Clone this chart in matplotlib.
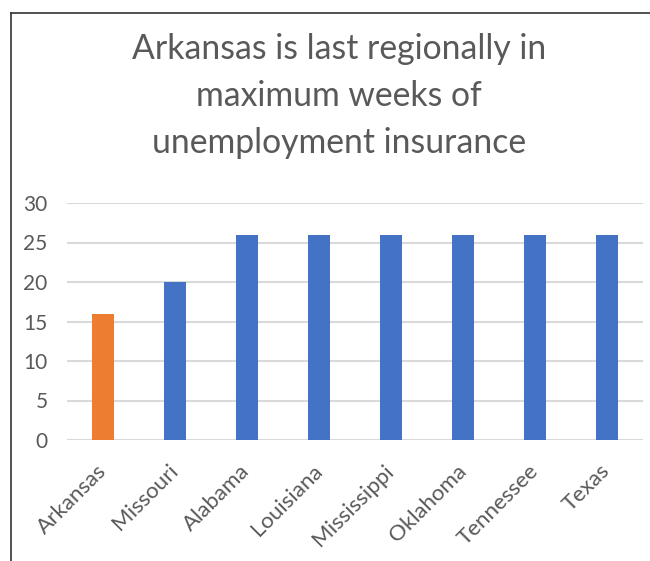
import matplotlib
matplotlib.use("Agg")
import matplotlib.pyplot as plt
from matplotlib.lines import Line2D

states = ["Arkansas", "Missouri", "Alabama", "Louisiana", "Mississippi", "Oklahoma", "Tennessee", "Texas"]
weeks = [16, 20, 26, 26, 26, 26, 26, 26]
colors = ["#ED7D31", "#4472C4", "#4472C4", "#4472C4", "#4472C4", "#4472C4", "#4472C4", "#4472C4"]
yticks = [0, 5, 10, 15, 20, 25, 30]
title = "Arkansas is last regionally in\nmaximum weeks of\nunemployment insurance"

plt.rcParams['font.family'] = ['Lato', 'DejaVu Sans']
txt = "#595959"

fig = plt.figure(figsize=(6.5, 5.61), dpi=100)
ax = fig.add_axes([67/650, 1-440/561, (643-67)/650, (440-203)/561])

x = list(range(len(states)))
ax.bar(x, weeks, width=0.31, color=colors, zorder=3)
ax.set_xlim(-0.5, len(states)-0.5)
ax.set_ylim(0, 30)
ax.set_yticks(yticks)
ax.set_yticklabels([str(v) for v in yticks], fontsize=15, color=txt)
ax.set_xticks(x)
ax.set_xticklabels(states, fontsize=16, color=txt, rotation=45, ha='right', va='center',
                   rotation_mode='anchor')
ax.tick_params(axis='both', length=0)
ax.tick_params(axis='y', pad=14)
ax.tick_params(axis='x', pad=20)
ax.grid(axis='y', color='#d9d9d9', linewidth=1.5, zorder=0)
for s in ax.spines.values():
    s.set_visible(False)

fig.text(339/650, 1-96/561, title, ha='center', va='center', fontsize=24.3,
         color=txt, linespacing=1.58)

# frame lines (top and left)
fig.add_artist(Line2D([11/650, 1.0], [1-13/561, 1-13/561], transform=fig.transFigure, color='#333333', linewidth=1.2))
fig.add_artist(Line2D([11/650, 11/650], [0, 1-13/561], transform=fig.transFigure, color='#333333', linewidth=1.2))

fig.savefig("out.png", dpi=100)
